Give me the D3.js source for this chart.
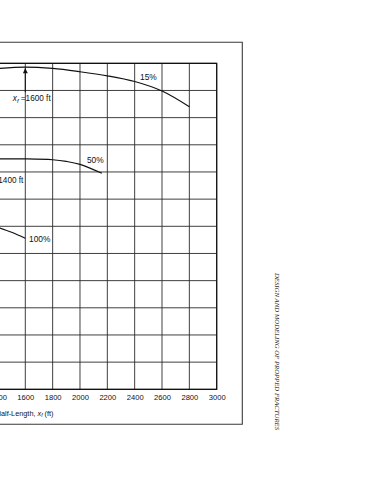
<!DOCTYPE html>
<html>
<head>
<meta charset="utf-8">
<script src="https://cdn.jsdelivr.net/npm/d3@7/dist/d3.min.js"></script>
<style>
    body { margin: 0; background: #fff; }
    svg { display: block; }
    .grid line { stroke: #2a2a2a; stroke-width: 0.9; }
    .lbl { font-family: "Liberation Sans", Arial, sans-serif; fill: #111; }
</style>
</head>
<body>
<div id="chart"></div>
<script>

// x values (fracture half-length, ft) and curve values (12 divisions)
var xTicks = [1400, 1600, 1800, 2000, 2200, 2400, 2600, 2800, 3000];

var curve15 = [
    { xf: 1400, v: 11.81 }, { xf: 1600, v: 11.86 }, { xf: 1800, v: 11.81 },
    { xf: 2000, v: 11.69 }, { xf: 2200, v: 11.54 }, { xf: 2400, v: 11.33 },
    { xf: 2600, v: 10.98 }, { xf: 2800, v: 10.40 }
];
var curve50 = [
    { xf: 1400, v: 8.48 }, { xf: 1600, v: 8.48 }, { xf: 1800, v: 8.45 },
    { xf: 1900, v: 8.39 }, { xf: 2000, v: 8.28 }, { xf: 2160, v: 7.95 }
];
var curve100 = [
    { xf: 1400, v: 5.96 }, { xf: 1500, v: 5.78 }, { xf: 1600, v: 5.56 }
];

var curveNames = ["15%", "50%", "100%"];
var curveLabelAt = [{ xf: 2439, v: 11.48 }, { xf: 2051, v: 8.44 }, { xf: 1627, v: 5.52 }];

// optimum half-length for each curve
var optimumXf = [1600, 1400];
var optimumV = [11.86, 8.48];

var sideTitle = "DESIGN AND MODELING OF PROPPED FRACTURES";
var xTitle = "Fracture Half-Length, ";

var W = 370, H = 480;

var svg = d3.select("#chart").append("svg")
    .attr("width", W)
    .attr("height", H);

// scales (the chart is cut at the left edge of the page)
var x = d3.scaleLinear()
    .domain([1600, 3000])
    .range([25.3, 216.7]);

var y = d3.scaleLinear()
    .domain([0, 12])
    .range([389.3, 63.3]);

var defs = svg.append("defs");
defs.append("marker")
    .attr("id", "arrow")
    .attr("viewBox", "0 0 10 10")
    .attr("refX", 10)
    .attr("refY", 5)
    .attr("markerUnits", "userSpaceOnUse")
    .attr("markerWidth", 7)
    .attr("markerHeight", 5)
    .attr("orient", "auto")
    .append("path")
    .attr("d", "M0,0L10,5L0,10Z")
    .attr("fill", "#111");

// outer page frame
svg.append("path")
    .attr("d", "M-5,42.3H242.3V424.3H-5")
    .attr("fill", "none")
    .attr("stroke", "#3a3a3a")
    .attr("stroke-width", 1.1);

// grid
var grid = svg.append("g").attr("class", "grid");

grid.selectAll(".vline")
    .data(d3.range(1400, 3001, 200))
    .enter().append("line")
    .attr("class", "vline")
    .attr("x1", function(d) { return x(d); })
    .attr("x2", function(d) { return x(d); })
    .attr("y1", y(12))
    .attr("y2", y(0));

grid.selectAll(".hline")
    .data(d3.range(0, 13, 1))
    .enter().append("line")
    .attr("class", "hline")
    .attr("x1", x(1200))
    .attr("x2", x(3000))
    .attr("y1", function(d) { return y(d); })
    .attr("y2", function(d) { return y(d); });

// plot frame
svg.append("path")
    .attr("d", "M" + x(1200) + "," + y(12) + "H" + x(3000) + "V" + y(0) + "H" + x(1200))
    .attr("fill", "none")
    .attr("stroke", "#111")
    .attr("stroke-width", 1.2);

// x axis labels
var xAxis = d3.axisBottom(x)
    .tickValues(xTicks)
    .tickSize(0)
    .tickPadding(5)
    .tickFormat(d3.format("d"));

var gx = svg.append("g")
    .attr("transform", "translate(0," + y(0) + ")")
    .call(xAxis);
gx.select(".domain").remove();
gx.selectAll("text")
    .attr("class", "lbl")
    .style("font-size", "7.6px")
    .attr("fill", "#111");

var xt = svg.append("text")
    .attr("class", "lbl")
    .attr("x", 53.5)
    .attr("y", 415.5)
    .attr("text-anchor", "end")
    .attr("fill", "#111")
    .style("font-size", "7.3px");
xt.append("tspan").text(xTitle);
xt.append("tspan").style("font-style", "italic").text("x");
xt.append("tspan").attr("dy", 1.5).style("font-size", "5px").style("font-style", "italic").text("f");
xt.append("tspan").attr("dy", -1.5).text(" (ft)");

// curves
var line = d3.line()
    .curve(d3.curveCatmullRom.alpha(0.5))
    .x(function(d) { return x(d.xf); })
    .y(function(d) { return y(d.v); });

svg.selectAll(".curve")
    .data([curve15, curve50, curve100])
    .enter().append("path")
    .attr("class", "curve")
    .attr("d", line)
    .attr("fill", "none")
    .attr("stroke", "#111")
    .attr("stroke-width", 1.2);

svg.selectAll(".cname")
    .data(curveNames)
    .enter().append("text")
    .attr("class", "lbl cname")
    .attr("x", function(d, i) { return x(curveLabelAt[i].xf); })
    .attr("y", function(d, i) { return y(curveLabelAt[i].v); })
    .attr("dy", "0.36em")
    .attr("fill", "#111")
    .style("font-size", "8.4px")
    .text(function(d) { return d; });

// optimum arrows + labels
var arrowLen = [24, 13];
var labelDrop = [33.7, 23.7];

optimumXf.forEach(function(xf, i) {
    var tipY = y(optimumV[i]) + 1.2;
    svg.append("line")
        .attr("x1", x(xf))
        .attr("x2", x(xf))
        .attr("y1", tipY + arrowLen[i])
        .attr("y2", tipY)
        .attr("stroke", "#111")
        .attr("stroke-width", 1)
        .attr("marker-end", "url(#arrow)");

    var t = svg.append("text")
        .attr("class", "lbl")
        .attr("x", x(xf) - 12.5)
        .attr("y", y(optimumV[i]) + labelDrop[i])
        .attr("fill", "#111")
        .style("font-size", "8.2px");
    t.append("tspan").style("font-style", "italic").text("x");
    t.append("tspan").attr("dy", 2).style("font-size", "6px").style("font-style", "italic").text("f");
    t.append("tspan").attr("dy", -2).text(" =" + xf + " ft");
});

// running head on the page margin
svg.append("text")
    .attr("transform", "translate(274.5,273) rotate(90)")
    .attr("x", 0)
    .attr("y", 0)
    .attr("textLength", 157)
    .attr("lengthAdjust", "spacingAndGlyphs")
    .style("font-family", "'Liberation Serif', 'Times New Roman', serif")
    .style("font-style", "italic")
    .style("font-size", "6.8px")
    .attr("fill", "#222")
    .text(sideTitle);

</script>
</body>
</html>
